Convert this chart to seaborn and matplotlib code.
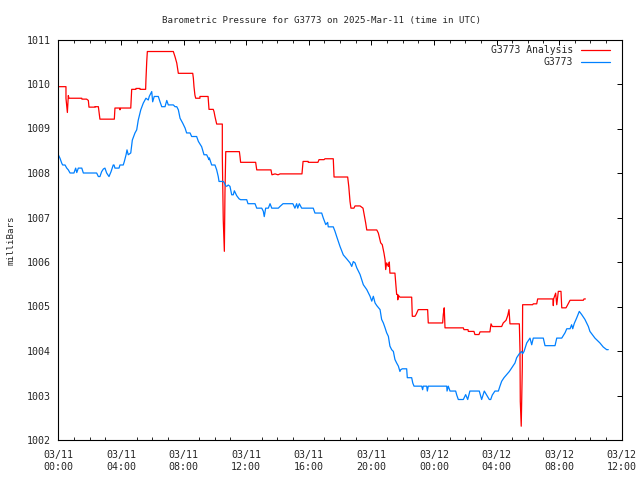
import matplotlib
matplotlib.use("Agg")
import matplotlib.pyplot as plt
from matplotlib.ticker import MultipleLocator
import pandas as pd
import seaborn as sns

# ---- data (hours since 2025-03-11 00:00 UTC, millibars) ----
analysis_hours = [0.00, 0.49, 0.49, 0.58, 0.64, 0.68, 1.50, 1.51, 1.81, 1.92, 1.96, 2.35, 2.35, 2.56, 2.66, 3.58,
                  3.62, 3.94, 3.94, 3.99, 4.63, 4.69, 4.96, 4.96, 5.22, 5.22, 5.58, 5.60, 5.65, 5.69, 7.35, 7.46,
                  7.57, 7.67, 8.59, 8.63, 8.67, 8.73, 8.78, 9.05, 9.05, 9.57, 9.63, 9.90, 9.95, 10.01, 10.12,
                  10.48, 10.48, 10.54, 10.61, 10.65, 10.70, 11.57, 11.61, 11.65, 12.61, 12.68, 13.59, 13.65,
                  13.85, 14.04, 14.17, 15.57, 15.64, 15.97, 15.97, 16.59, 16.66, 16.98, 17.04, 17.57, 17.62,
                  18.49, 18.56, 18.64, 18.70, 18.89, 18.96, 19.28, 19.47, 19.64, 19.71, 20.35, 20.45, 20.60,
                  20.70, 20.81, 20.88, 20.92, 20.98, 21.09, 21.15, 21.19, 21.51, 21.56, 21.62, 21.69, 21.69,
                  21.73, 21.83, 22.58, 22.62, 22.79, 22.86, 23.00, 23.60, 23.64, 24.56, 24.60, 24.66, 24.71,
                  25.88, 25.92, 26.18, 26.20, 26.56, 26.62, 26.88, 26.95, 27.58, 27.65, 27.73, 28.33, 28.43,
                  28.61, 28.72, 28.80, 28.86, 29.46, 29.50, 29.52, 29.58, 29.65, 29.67, 30.31, 30.35, 30.57,
                  30.63, 31.61, 31.63, 31.65, 31.78, 31.85, 31.95, 32.12, 32.17, 32.44, 32.52, 32.70, 33.55,
                  33.59, 33.68]
analysis_mb = [1009.94, 1009.94, 1009.68, 1009.36, 1009.74, 1009.68, 1009.68, 1009.66, 1009.66, 1009.63, 1009.48,
               1009.48, 1009.49, 1009.49, 1009.21, 1009.21, 1009.46, 1009.46, 1009.42, 1009.46, 1009.46, 1009.88,
               1009.88, 1009.90, 1009.90, 1009.88, 1009.88, 1010.09, 1010.50, 1010.73, 1010.73, 1010.61, 1010.47,
               1010.24, 1010.24, 1010.13, 1009.94, 1009.75, 1009.68, 1009.68, 1009.72, 1009.72, 1009.43, 1009.43,
               1009.38, 1009.27, 1009.10, 1009.10, 1008.39, 1006.95, 1006.24, 1007.56, 1008.48, 1008.48, 1008.37,
               1008.24, 1008.24, 1008.07, 1008.07, 1007.96, 1007.98, 1007.96, 1007.98, 1007.98, 1008.26, 1008.26,
               1008.24, 1008.24, 1008.30, 1008.30, 1008.32, 1008.32, 1007.91, 1007.91, 1007.70, 1007.36, 1007.21,
               1007.21, 1007.26, 1007.26, 1007.21, 1006.88, 1006.72, 1006.72, 1006.65, 1006.43, 1006.39, 1006.20,
               1006.05, 1005.83, 1005.98, 1005.90, 1006.00, 1005.75, 1005.75, 1005.53, 1005.27, 1005.27, 1005.15,
               1005.25, 1005.21, 1005.21, 1004.78, 1004.78, 1004.82, 1004.93, 1004.93, 1004.63, 1004.63, 1004.82,
               1004.97, 1004.52, 1004.52, 1004.48, 1004.48, 1004.44, 1004.44, 1004.37, 1004.37, 1004.43, 1004.43,
               1004.61, 1004.55, 1004.55, 1004.63, 1004.69, 1004.80, 1004.93, 1004.61, 1004.61, 1004.03, 1002.87,
               1002.31, 1003.66, 1005.04, 1005.04, 1005.06, 1005.06, 1005.17, 1005.17, 1005.02, 1005.17, 1005.30,
               1005.04, 1005.34, 1005.34, 1004.97, 1004.97, 1005.02, 1005.14, 1005.14, 1005.17, 1005.17]

station_hours = [0.00, 0.11, 0.22, 0.28, 0.43, 0.54, 0.64, 0.75, 1.00, 1.11, 1.18, 1.28, 1.50, 1.60, 2.45, 2.56,
                 2.66, 2.77, 2.88, 2.98, 3.09, 3.24, 3.37, 3.51, 3.56, 3.62, 3.88, 3.94, 4.15, 4.22, 4.33, 4.39,
                 4.47, 4.63, 4.73, 4.90, 5.01, 5.11, 5.27, 5.43, 5.60, 5.75, 5.81, 5.97, 6.03, 6.13, 6.39, 6.50,
                 6.61, 6.82, 6.93, 7.03, 7.35, 7.46, 7.57, 7.67, 7.78, 7.95, 8.10, 8.20, 8.42, 8.52, 8.84, 8.95,
                 9.16, 9.31, 9.48, 9.63, 9.65, 9.80, 10.01, 10.12, 10.22, 10.27, 10.54, 10.59, 10.70, 10.76,
                 10.86, 10.97, 11.08, 11.18, 11.25, 11.40, 11.55, 11.65, 12.04, 12.12, 12.57, 12.68, 13.00,
                 13.10, 13.16, 13.25, 13.42, 13.53, 13.64, 14.06, 14.17, 14.36, 14.99, 15.12, 15.23, 15.30,
                 15.40, 15.55, 16.29, 16.40, 16.83, 16.93, 17.09, 17.21, 17.25, 17.57, 17.68, 17.79, 18.00,
                 18.21, 18.43, 18.64, 18.75, 18.85, 18.96, 19.07, 19.28, 19.49, 19.71, 19.92, 20.03, 20.13,
                 20.24, 20.35, 20.56, 20.66, 20.77, 20.88, 20.98, 21.09, 21.19, 21.30, 21.41, 21.51, 21.62,
                 21.73, 21.83, 21.88, 21.98, 22.26, 22.30, 22.58, 22.65, 22.73, 23.22, 23.28, 23.32, 23.54,
                 23.58, 23.64, 24.82, 24.84, 24.92, 25.03, 25.39, 25.46, 25.56, 25.88, 26.03, 26.16, 26.30,
                 26.90, 27.05, 27.22, 27.37, 27.54, 27.63, 27.73, 27.90, 28.12, 28.22, 28.33, 28.48, 28.65,
                 28.82, 28.97, 29.18, 29.29, 29.46, 29.61, 29.67, 29.76, 29.93, 30.14, 30.25, 30.35, 30.99,
                 31.10, 31.74, 31.85, 32.17, 32.38, 32.49, 32.70, 32.80, 32.87, 32.97, 33.12, 33.29, 33.44,
                 33.65, 33.87, 33.97, 34.29, 34.61, 34.82, 35.04, 35.14]
station_mb = [1008.41, 1008.33, 1008.22, 1008.18, 1008.18, 1008.11, 1008.07, 1008.00, 1008.00, 1008.11, 1008.01,
              1008.11, 1008.11, 1008.00, 1008.00, 1007.92, 1007.92, 1008.03, 1008.09, 1008.11, 1008.00, 1007.92,
              1008.03, 1008.18, 1008.18, 1008.11, 1008.11, 1008.18, 1008.18, 1008.26, 1008.41, 1008.52, 1008.41,
              1008.45, 1008.74, 1008.90, 1008.97, 1009.19, 1009.42, 1009.57, 1009.68, 1009.64, 1009.72, 1009.83,
              1009.60, 1009.72, 1009.72, 1009.60, 1009.49, 1009.49, 1009.63, 1009.53, 1009.53, 1009.49, 1009.49,
              1009.42, 1009.23, 1009.12, 1009.01, 1008.90, 1008.90, 1008.82, 1008.82, 1008.71, 1008.59, 1008.41,
              1008.41, 1008.30, 1008.34, 1008.18, 1008.18, 1008.07, 1007.92, 1007.81, 1007.81, 1007.79, 1007.71,
              1007.70, 1007.73, 1007.70, 1007.51, 1007.51, 1007.60, 1007.49, 1007.42, 1007.40, 1007.40, 1007.31,
              1007.31, 1007.21, 1007.21, 1007.14, 1007.02, 1007.21, 1007.21, 1007.31, 1007.21, 1007.21, 1007.25,
              1007.31, 1007.31, 1007.21, 1007.31, 1007.21, 1007.31, 1007.21, 1007.21, 1007.10, 1007.10, 1006.99,
              1006.84, 1006.89, 1006.79, 1006.79, 1006.69, 1006.57, 1006.35, 1006.16, 1006.07, 1005.98, 1005.90,
              1006.01, 1005.98, 1005.87, 1005.72, 1005.49, 1005.38, 1005.23, 1005.12, 1005.23, 1005.08, 1005.02,
              1004.93, 1004.71, 1004.63, 1004.52, 1004.41, 1004.33, 1004.11, 1004.03, 1003.99, 1003.81, 1003.73,
              1003.66, 1003.54, 1003.58, 1003.60, 1003.60, 1003.40, 1003.40, 1003.28, 1003.21, 1003.21, 1003.13,
              1003.21, 1003.21, 1003.10, 1003.21, 1003.21, 1003.10, 1003.21, 1003.10, 1003.10, 1003.01, 1002.91,
              1002.91, 1003.02, 1002.91, 1003.10, 1003.10, 1002.91, 1003.10, 1003.01, 1002.91, 1002.91, 1003.01,
              1003.10, 1003.10, 1003.21, 1003.32, 1003.40, 1003.47, 1003.54, 1003.62, 1003.73, 1003.85, 1003.94,
              1003.99, 1003.94, 1003.99, 1004.18, 1004.29, 1004.14, 1004.29, 1004.29, 1004.12, 1004.12, 1004.29,
              1004.29, 1004.41, 1004.50, 1004.50, 1004.59, 1004.50, 1004.62, 1004.74, 1004.89, 1004.82, 1004.71,
              1004.55, 1004.44, 1004.29, 1004.18, 1004.09, 1004.03, 1004.03]

series_names = ["G3773 Analysis", "G3773"]
series_colors = ["#ff0000", "#0080ff"]
x_tick_hours = [0, 4, 8, 12, 16, 20, 24, 28, 32, 36]
x_tick_labels = ["03/11\n00:00", "03/11\n04:00", "03/11\n08:00", "03/11\n12:00", "03/11\n16:00",
                 "03/11\n20:00", "03/12\n00:00", "03/12\n04:00", "03/12\n08:00", "03/12\n12:00"]
y_ticks = [1002, 1003, 1004, 1005, 1006, 1007, 1008, 1009, 1010, 1011]
title_text = "Barometric Pressure for G3773 on 2025-Mar-11 (time in UTC)"
y_label = "milliBars"

df_a = pd.DataFrame({"hour": analysis_hours, "mb": analysis_mb, "series": series_names[0]})
df_s = pd.DataFrame({"hour": station_hours, "mb": station_mb, "series": series_names[1]})

sns.set_style("white")
plt.rcParams["font.family"] = ["DejaVu Sans Mono"]
FS_TITLE = 6.6
FS_TICK = 7.2
FS_LEG = 7.0

fig = plt.figure(figsize=(6.4, 4.8), dpi=100)
ax = fig.add_axes([58.3 / 640, 1 - 440 / 480, (621.7 - 58.3) / 640, (440 - 39.5) / 480])

sns.lineplot(data=df_a, x="hour", y="mb", ax=ax, color=series_colors[0], linewidth=0.9,
             estimator=None, sort=False, label=series_names[0])
sns.lineplot(data=df_s, x="hour", y="mb", ax=ax, color=series_colors[1], linewidth=0.9,
             estimator=None, sort=False, label=series_names[1])

ax.set_xlim(0, 36)
ax.set_ylim(1002, 1011)
ax.set_xticks(x_tick_hours)
ax.set_xticklabels(x_tick_labels, fontsize=FS_TICK, linespacing=1.25)
ax.xaxis.set_minor_locator(MultipleLocator(1))
ax.set_yticks(y_ticks)
ax.set_yticklabels([str(v) for v in y_ticks], fontsize=FS_TICK)
ax.tick_params(axis="both", which="major", direction="in", length=3.6, width=0.7,
               top=True, right=True, color="black")
ax.tick_params(axis="x", which="major", pad=7.5)
ax.tick_params(axis="y", which="major", pad=5.2)
ax.tick_params(axis="x", which="minor", direction="in", length=2.2, width=0.7, top=True, bottom=True)
for s in ax.spines.values():
    s.set_visible(True)
    s.set_color("black")
    s.set_linewidth(0.8)
ax.set_xlabel("")
ax.set_ylabel("")

fig.text(322 / 640, 1 - 20 / 480, title_text, ha="center", va="center", fontsize=FS_TITLE)
fig.text(11 / 640, 1 - 240 / 480, y_label, ha="center", va="center", rotation=90, fontsize=FS_TITLE)

leg = ax.legend(loc="upper right", bbox_to_anchor=(610 / 640, 1 - 45 / 480),
                bbox_transform=fig.transFigure, frameon=False, markerfirst=False,
                fontsize=FS_LEG, handlelength=3.0, handletextpad=0.8, labelspacing=0.2,
                borderpad=0, borderaxespad=0)

fig.savefig("out.png", dpi=100, facecolor="white")
